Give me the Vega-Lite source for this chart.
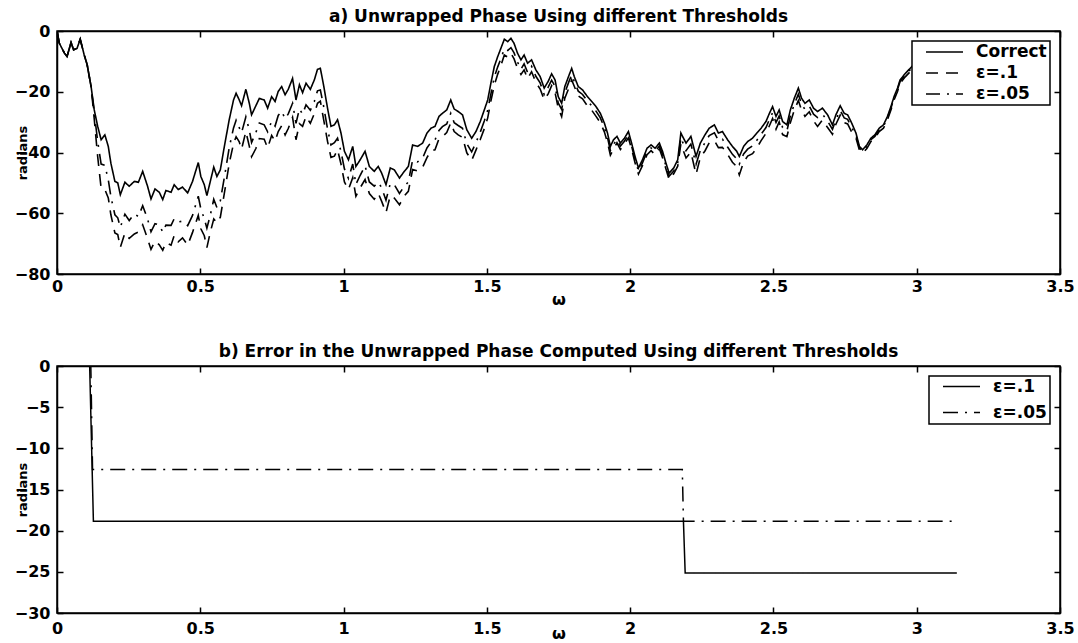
{
  "$schema": "https://vega.github.io/schema/vega-lite/v6.json",
  "background": "white",
  "padding": {"left": 13, "top": 7, "right": 5, "bottom": 0},
  "spacing": 34,
  "resolve": {"scale": {"strokeDash": "independent"}, "legend": {"strokeDash": "independent"}},
  "datasets": {
    "phase": [
      {"w":0,"c":0,"e05":0,"e1":0},
      {"w":0.008,"c":-4,"e05":-4,"e1":-4},
      {"w":0.026,"c":-7.3,"e05":-7.3,"e1":-7.3},
      {"w":0.035,"c":-8.4,"e05":-8.4,"e1":-8.4},
      {"w":0.049,"c":-3.8,"e05":-3.8,"e1":-3.8},
      {"w":0.058,"c":-6.2,"e05":-6.2,"e1":-6.2},
      {"w":0.07,"c":-5.7,"e05":-5.7,"e1":-5.7},
      {"w":0.081,"c":-2.7,"e05":-2.7,"e1":-2.7},
      {"w":0.095,"c":-7.9,"e05":-7.9,"e1":-7.9},
      {"w":0.105,"c":-11,"e05":-11,"e1":-11},
      {"w":0.119,"c":-18.3,"e05":-18.3,"e1":-18.3},
      {"w":0.13,"c":-26,"e05":-27,"e1":-29},
      {"w":0.142,"c":-31.4,"e05":-36.4,"e1":-41.4},
      {"w":0.154,"c":-35.8,"e05":-43.8,"e1":-51.8},
      {"w":0.167,"c":-34.2,"e05":-44.2,"e1":-52.2},
      {"w":0.179,"c":-38,"e05":-49,"e1":-55},
      {"w":0.188,"c":-43.5,"e05":-54.5,"e1":-60.5},
      {"w":0.202,"c":-49.5,"e05":-60.5,"e1":-66.5},
      {"w":0.212,"c":-50,"e05":-61.5,"e1":-67},
      {"w":0.221,"c":-53.9,"e05":-64.6,"e1":-71.2},
      {"w":0.237,"c":-49.8,"e05":-60.3,"e1":-66.5},
      {"w":0.252,"c":-51.1,"e05":-62.4,"e1":-68.3},
      {"w":0.27,"c":-49.5,"e05":-60.2,"e1":-66.8},
      {"w":0.284,"c":-49.8,"e05":-61.1,"e1":-66.2},
      {"w":0.299,"c":-46.2,"e05":-57.5,"e1":-63.8},
      {"w":0.316,"c":-51.1,"e05":-61.9,"e1":-68.4},
      {"w":0.328,"c":-55.3,"e05":-66.1,"e1":-71.9},
      {"w":0.342,"c":-52,"e05":-63.4,"e1":-69.2},
      {"w":0.357,"c":-53.1,"e05":-63.8,"e1":-70.4},
      {"w":0.369,"c":-55.5,"e05":-66.2,"e1":-72.2},
      {"w":0.38,"c":-52.5,"e05":-63.9,"e1":-69.6},
      {"w":0.398,"c":-53.1,"e05":-64,"e1":-70.5},
      {"w":0.409,"c":-50.6,"e05":-61.8,"e1":-67.3},
      {"w":0.423,"c":-52.2,"e05":-62.9,"e1":-69.4},
      {"w":0.438,"c":-51.4,"e05":-62.6,"e1":-68.1},
      {"w":0.456,"c":-53.3,"e05":-64.1,"e1":-70.5},
      {"w":0.473,"c":-49.5,"e05":-60.7,"e1":-66.3},
      {"w":0.493,"c":-43.3,"e05":-54.4,"e1":-60.7},
      {"w":0.502,"c":-47.9,"e05":-58.6,"e1":-65.1},
      {"w":0.514,"c":-50.6,"e05":-61.8,"e1":-67.4},
      {"w":0.523,"c":-54.2,"e05":-64.9,"e1":-71.3},
      {"w":0.535,"c":-49.5,"e05":-60.6,"e1":-66.2},
      {"w":0.547,"c":-44.8,"e05":-55.4,"e1":-61.9},
      {"w":0.558,"c":-47.9,"e05":-58.1,"e1":-63.2},
      {"w":0.57,"c":-45.7,"e05":-55.9,"e1":-61.3},
      {"w":0.584,"c":-38,"e05":-48.2,"e1":-53.4},
      {"w":0.601,"c":-29.2,"e05":-38.4,"e1":-43.6},
      {"w":0.616,"c":-22.7,"e05":-31.9,"e1":-37.1},
      {"w":0.625,"c":-20.5,"e05":-29.4,"e1":-34.8},
      {"w":0.636,"c":-22.7,"e05":-31.8,"e1":-36.5},
      {"w":0.644,"c":-24.6,"e05":-33.5,"e1":-38.9},
      {"w":0.659,"c":-19.2,"e05":-28.3,"e1":-33.1},
      {"w":0.671,"c":-23.8,"e05":-32.6,"e1":-37.9},
      {"w":0.679,"c":-27.6,"e05":-36.7,"e1":-41.4},
      {"w":0.694,"c":-24.6,"e05":-33.4,"e1":-38.7},
      {"w":0.706,"c":-22.2,"e05":-30.3,"e1":-35.4},
      {"w":0.723,"c":-22.7,"e05":-30.9,"e1":-35.6},
      {"w":0.735,"c":-25.4,"e05":-33.2,"e1":-38.5},
      {"w":0.749,"c":-21.6,"e05":-29.7,"e1":-34.4},
      {"w":0.761,"c":-23.2,"e05":-31.3,"e1":-36.3},
      {"w":0.772,"c":-19.9,"e05":-27.8,"e1":-33.1},
      {"w":0.784,"c":-18.3,"e05":-26.4,"e1":-31.2},
      {"w":0.796,"c":-21,"e05":-28.9,"e1":-34.2},
      {"w":0.807,"c":-19.2,"e05":-27.3,"e1":-32.1},
      {"w":0.822,"c":-15.6,"e05":-23.8,"e1":-28.4},
      {"w":0.834,"c":-22.7,"e05":-30.4,"e1":-35.8},
      {"w":0.846,"c":-17.7,"e05":-25.6,"e1":-30.5},
      {"w":0.857,"c":-20.3,"e05":-27.4,"e1":-31.4},
      {"w":0.869,"c":-17.2,"e05":-24.3,"e1":-28.1},
      {"w":0.884,"c":-19.2,"e05":-26.1,"e1":-30.4},
      {"w":0.898,"c":-16.1,"e05":-23.2,"e1":-27.2},
      {"w":0.909,"c":-12.6,"e05":-19.7,"e1":-23.8},
      {"w":0.919,"c":-12.3,"e05":-19.4,"e1":-23.1},
      {"w":0.93,"c":-17.7,"e05":-24.6,"e1":-28.9},
      {"w":0.944,"c":-25.4,"e05":-32.2,"e1":-36.3},
      {"w":0.956,"c":-31.4,"e05":-37.5,"e1":-41.6},
      {"w":0.968,"c":-30.9,"e05":-36.8,"e1":-41.2},
      {"w":0.979,"c":-29.2,"e05":-35.3,"e1":-39.1},
      {"w":0.991,"c":-33.6,"e05":-39.7,"e1":-43.8},
      {"w":1.003,"c":-39.6,"e05":-45.4,"e1":-49.7},
      {"w":1.017,"c":-42.4,"e05":-48.5,"e1":-52.2},
      {"w":1.032,"c":-38,"e05":-43.8,"e1":-48.3},
      {"w":1.043,"c":-44.6,"e05":-50.5,"e1":-54.4},
      {"w":1.058,"c":-42.4,"e05":-47.5,"e1":-51.6},
      {"w":1.075,"c":-39.6,"e05":-44.4,"e1":-48.9},
      {"w":1.09,"c":-44.6,"e05":-49.7,"e1":-53.5},
      {"w":1.107,"c":-46.2,"e05":-51.1,"e1":-55.4},
      {"w":1.121,"c":-44.6,"e05":-49.8,"e1":-53.4},
      {"w":1.133,"c":-46.8,"e05":-51.6,"e1":-56.1},
      {"w":1.148,"c":-50.6,"e05":-55.7,"e1":-59.8},
      {"w":1.163,"c":-45.1,"e05":-50.2,"e1":-54.2},
      {"w":1.177,"c":-45.7,"e05":-50.6,"e1":-55},
      {"w":1.195,"c":-48.4,"e05":-53.5,"e1":-57.2},
      {"w":1.212,"c":-46.2,"e05":-51.1,"e1":-54.3},
      {"w":1.226,"c":-44.6,"e05":-49.7,"e1":-52.8},
      {"w":1.241,"c":-37.5,"e05":-42.4,"e1":-45.6},
      {"w":1.258,"c":-38,"e05":-43.1,"e1":-46.1},
      {"w":1.276,"c":-36.9,"e05":-41.8,"e1":-44.8},
      {"w":1.291,"c":-33.6,"e05":-38.5,"e1":-41.7},
      {"w":1.305,"c":-32,"e05":-36.6,"e1":-39.4},
      {"w":1.319,"c":-31.4,"e05":-35.9,"e1":-39.1},
      {"w":1.333,"c":-28.1,"e05":-32.7,"e1":-35.5},
      {"w":1.345,"c":-27.1,"e05":-31.5,"e1":-34.8},
      {"w":1.36,"c":-26,"e05":-30.6,"e1":-33.4},
      {"w":1.374,"c":-22.7,"e05":-27.1,"e1":-30.3},
      {"w":1.386,"c":-25.7,"e05":-30.2,"e1":-33.1},
      {"w":1.4,"c":-26.5,"e05":-31.1,"e1":-34.2},
      {"w":1.415,"c":-27.6,"e05":-32,"e1":-35},
      {"w":1.43,"c":-32.5,"e05":-37.1,"e1":-40.1},
      {"w":1.447,"c":-35.3,"e05":-39.8,"e1":-42.6},
      {"w":1.462,"c":-33.1,"e05":-36.7,"e1":-39.2},
      {"w":1.477,"c":-29.8,"e05":-33.3,"e1":-35.7},
      {"w":1.491,"c":-26,"e05":-29.6,"e1":-32.2},
      {"w":1.503,"c":-22.7,"e05":-26.1,"e1":-28.6},
      {"w":1.514,"c":-17.2,"e05":-20.8,"e1":-23.1},
      {"w":1.526,"c":-11.7,"e05":-15.1,"e1":-17.8},
      {"w":1.538,"c":-8.4,"e05":-11.8,"e1":-14.2},
      {"w":1.549,"c":-5.7,"e05":-9.1,"e1":-11.4},
      {"w":1.561,"c":-2.7,"e05":-5.8,"e1":-7.9},
      {"w":1.573,"c":-3.5,"e05":-6.4,"e1":-8.6},
      {"w":1.584,"c":-2.4,"e05":-5.5,"e1":-7.3},
      {"w":1.595,"c":-4.1,"e05":-7.2,"e1":-9.2},
      {"w":1.607,"c":-7.3,"e05":-10.2,"e1":-12.4},
      {"w":1.619,"c":-9.5,"e05":-12.6,"e1":-14.3},
      {"w":1.63,"c":-7.9,"e05":-10.8,"e1":-12.8},
      {"w":1.642,"c":-10.6,"e05":-13.6,"e1":-15.7},
      {"w":1.656,"c":-9.5,"e05":-11.6,"e1":-13.4},
      {"w":1.671,"c":-12.8,"e05":-14.9,"e1":-16.9},
      {"w":1.686,"c":-15,"e05":-17.1,"e1":-19.1},
      {"w":1.7,"c":-18.8,"e05":-20.9,"e1":-22.6},
      {"w":1.714,"c":-16.6,"e05":-18.5,"e1":-20.7},
      {"w":1.726,"c":-14.1,"e05":-16.2,"e1":-18},
      {"w":1.738,"c":-16.1,"e05":-18.2,"e1":-20.3},
      {"w":1.749,"c":-21.6,"e05":-23.7,"e1":-25.4},
      {"w":1.761,"c":-23.8,"e05":-25.8,"e1":-28.2},
      {"w":1.772,"c":-18.3,"e05":-20.4,"e1":-22.1},
      {"w":1.787,"c":-14.5,"e05":-16.5,"e1":-18.6},
      {"w":1.796,"c":-12.3,"e05":-14.4,"e1":-16.1},
      {"w":1.805,"c":-15,"e05":-16.6,"e1":-18.2},
      {"w":1.819,"c":-18.3,"e05":-19.8,"e1":-21.4},
      {"w":1.834,"c":-19.4,"e05":-20.9,"e1":-22.3},
      {"w":1.851,"c":-21.6,"e05":-23.1,"e1":-24.7},
      {"w":1.866,"c":-23.2,"e05":-24.6,"e1":-26.1},
      {"w":1.881,"c":-24.9,"e05":-26.4,"e1":-28.1},
      {"w":1.896,"c":-27.1,"e05":-28.6,"e1":-30.2},
      {"w":1.91,"c":-30.3,"e05":-31.8,"e1":-33.2},
      {"w":1.921,"c":-33.6,"e05":-35.1,"e1":-36.7},
      {"w":1.931,"c":-38,"e05":-39.4,"e1":-40.9},
      {"w":1.942,"c":-35.8,"e05":-37.3,"e1":-38.9},
      {"w":1.954,"c":-34.7,"e05":-35.8,"e1":-36.8},
      {"w":1.966,"c":-36.9,"e05":-37.9,"e1":-39},
      {"w":1.98,"c":-35.3,"e05":-36.3,"e1":-37.2},
      {"w":1.994,"c":-33.1,"e05":-34.1,"e1":-35.2},
      {"w":2.005,"c":-36.9,"e05":-37.9,"e1":-38.8},
      {"w":2.017,"c":-41.3,"e05":-42.3,"e1":-43.4},
      {"w":2.029,"c":-45.1,"e05":-46.1,"e1":-47.1},
      {"w":2.043,"c":-42.4,"e05":-43.4,"e1":-44.3},
      {"w":2.059,"c":-38.6,"e05":-39.6,"e1":-40.7},
      {"w":2.073,"c":-37.5,"e05":-38.5,"e1":-39.4},
      {"w":2.087,"c":-38.6,"e05":-39.6,"e1":-40.7},
      {"w":2.102,"c":-36.9,"e05":-37.9,"e1":-38.8},
      {"w":2.113,"c":-39.6,"e05":-40.6,"e1":-41.7},
      {"w":2.125,"c":-43.5,"e05":-44.5,"e1":-45.4},
      {"w":2.136,"c":-46.8,"e05":-47.8,"e1":-48.9},
      {"w":2.152,"c":-45.1,"e05":-46.1,"e1":-47},
      {"w":2.166,"c":-42.4,"e05":-43.4,"e1":-44.5},
      {"w":2.177,"c":-33.6,"e05":-35.1,"e1":-37.2},
      {"w":2.195,"c":-36.9,"e05":-39.4,"e1":-41.8},
      {"w":2.212,"c":-34.7,"e05":-37.2,"e1":-39.9},
      {"w":2.23,"c":-41.3,"e05":-43.9,"e1":-47.2},
      {"w":2.245,"c":-36.9,"e05":-39.3,"e1":-41.6},
      {"w":2.261,"c":-34.2,"e05":-36.8,"e1":-39.5},
      {"w":2.276,"c":-32,"e05":-34.4,"e1":-36.8},
      {"w":2.294,"c":-30.9,"e05":-33.5,"e1":-36.1},
      {"w":2.308,"c":-33.6,"e05":-36.1,"e1":-38.4},
      {"w":2.322,"c":-33.1,"e05":-35.6,"e1":-38.3},
      {"w":2.34,"c":-35.8,"e05":-38.2,"e1":-40.6},
      {"w":2.357,"c":-38,"e05":-40.6,"e1":-43.2},
      {"w":2.372,"c":-39.6,"e05":-42.1,"e1":-44.7},
      {"w":2.381,"c":-41.3,"e05":-43.8,"e1":-47.4},
      {"w":2.396,"c":-38,"e05":-40.5,"e1":-43.1},
      {"w":2.41,"c":-36.4,"e05":-38.9,"e1":-41.2},
      {"w":2.427,"c":-35.3,"e05":-37.8,"e1":-40.4},
      {"w":2.442,"c":-33.6,"e05":-36,"e1":-38.5},
      {"w":2.457,"c":-32,"e05":-34,"e1":-36.1},
      {"w":2.474,"c":-29.8,"e05":-31.8,"e1":-33.7},
      {"w":2.486,"c":-27.1,"e05":-29.1,"e1":-31.2},
      {"w":2.497,"c":-24.9,"e05":-26.9,"e1":-28.8},
      {"w":2.509,"c":-28.1,"e05":-30.1,"e1":-32.3},
      {"w":2.52,"c":-26,"e05":-28,"e1":-29.9},
      {"w":2.532,"c":-29.8,"e05":-31.8,"e1":-34.1},
      {"w":2.547,"c":-30.9,"e05":-32.9,"e1":-34.8},
      {"w":2.559,"c":-26,"e05":-28,"e1":-30.2},
      {"w":2.573,"c":-22.1,"e05":-24.1,"e1":-26},
      {"w":2.587,"c":-18.8,"e05":-20.8,"e1":-22.9},
      {"w":2.598,"c":-22.1,"e05":-24.1,"e1":-26},
      {"w":2.61,"c":-23.8,"e05":-25.8,"e1":-28.1},
      {"w":2.625,"c":-22.7,"e05":-24.7,"e1":-26.6},
      {"w":2.64,"c":-25.4,"e05":-27.4,"e1":-29.6},
      {"w":2.654,"c":-26.5,"e05":-28.5,"e1":-31.4},
      {"w":2.671,"c":-25.4,"e05":-27.4,"e1":-29.3},
      {"w":2.689,"c":-27.6,"e05":-29.6,"e1":-31.8},
      {"w":2.706,"c":-30.9,"e05":-32.4,"e1":-34},
      {"w":2.718,"c":-27.6,"e05":-29.1,"e1":-30.7},
      {"w":2.733,"c":-24.6,"e05":-26.1,"e1":-27.7},
      {"w":2.747,"c":-27.1,"e05":-28.6,"e1":-30.2},
      {"w":2.759,"c":-27.6,"e05":-29.1,"e1":-30.6},
      {"w":2.773,"c":-30.3,"e05":-31.8,"e1":-33.3},
      {"w":2.788,"c":-33.6,"e05":-34.3,"e1":-35.2},
      {"w":2.8,"c":-38,"e05":-38.5,"e1":-39.2},
      {"w":2.811,"c":-39.1,"e05":-39.6,"e1":-40.2},
      {"w":2.826,"c":-37.5,"e05":-38,"e1":-38.7},
      {"w":2.84,"c":-35.3,"e05":-35.8,"e1":-36.4},
      {"w":2.854,"c":-34.2,"e05":-34.7,"e1":-35.3},
      {"w":2.869,"c":-32,"e05":-32.5,"e1":-33.1},
      {"w":2.884,"c":-30.9,"e05":-31.4,"e1":-32},
      {"w":2.898,"c":-28.1,"e05":-28.6,"e1":-29.2},
      {"w":2.91,"c":-24.9,"e05":-25.4,"e1":-26},
      {"w":2.921,"c":-21.6,"e05":-22.1,"e1":-22.7},
      {"w":2.933,"c":-18.8,"e05":-19.3,"e1":-19.9},
      {"w":2.942,"c":-16.1,"e05":-16.6,"e1":-17.2},
      {"w":2.96,"c":-14,"e05":-14.5,"e1":-15.1},
      {"w":2.98,"c":-12,"e05":-12.5,"e1":-13.1},
      {"w":3.0,"c":-10,"e05":-10.5,"e1":-11.1},
      {"w":3.04,"c":-8.5,"e05":-9,"e1":-9.6},
      {"w":3.08,"c":-7,"e05":-7.5,"e1":-8.1},
      {"w":3.14,"c":-5.5,"e05":-6,"e1":-6.6}
    ],
    "err": [
      {"w":0,"series":"e1","value":0},
      {"w":0.114,"series":"e1","value":0},
      {"w":0.127,"series":"e1","value":-18.85},
      {"w":2.186,"series":"e1","value":-18.85},
      {"w":2.192,"series":"e1","value":-25.13},
      {"w":3.14,"series":"e1","value":-25.13},
      {"w":0,"series":"e05","value":0},
      {"w":0.118,"series":"e05","value":0},
      {"w":0.124,"series":"e05","value":-12.57},
      {"w":2.182,"series":"e05","value":-12.57},
      {"w":2.186,"series":"e05","value":-18.85},
      {"w":3.14,"series":"e05","value":-18.85}
    ]
  },
  "vconcat": [
    {
      "width": 1003,
      "height": 243,
      "title": {"text": "a) Unwrapped Phase Using different Thresholds", "frame": "group", "offset": -3},
      "data": {"name": "phase"},
      "transform": [{"fold": ["c", "e1", "e05"], "as": ["series", "value"]}],
      "layer": [
        {
          "mark": {"type": "line", "color": "black", "strokeWidth": 1.6, "clip": true},
          "encoding": {
            "x": {"field": "w", "type": "quantitative", "scale": {"domain": [0, 3.5], "nice": false, "zero": false},
                  "axis": {"orient": "bottom", "values": [0, 0.5, 1, 1.5, 2, 2.5, 3, 3.5], "format": "~g", "title": "ω", "titleY": 25, "titleBaseline": "middle", "labelPadding": 10}},
            "y": {"field": "value", "type": "quantitative", "scale": {"domain": [-80, 0], "nice": false, "zero": false},
                  "axis": {"orient": "left", "values": [-80, -60, -40, -20, 0], "title": "radians", "titleX": -31, "titleY": 121.5, "titleBaseline": "alphabetic", "titleFontSize": 13, "labelPadding": 13}},
            "strokeDash": {"field": "series", "type": "nominal",
                  "scale": {"domain": ["c", "e1", "e05"], "range": [[1, 0], [12, 8], [14, 7, 2, 7]]},
                  "legend": {"title": null, "orient": "top-right", "offset": 10, "padding": 3, "clipHeight": 16, "rowPadding": 4,
                             "labelExpr": "datum.label == 'c' ? 'Correct\u00a0\u00a0' : datum.label == 'e1' ? 'ε=.1' : 'ε=.05'"}}
          }
        },
        {
          "mark": {"type": "point", "opacity": 0},
          "encoding": {
            "x": {"field": "w", "type": "quantitative", "axis": {"orient": "top", "values": [0, 0.5, 1, 1.5, 2, 2.5, 3, 3.5], "labels": false, "title": null}},
            "y": {"field": "value", "type": "quantitative", "axis": {"orient": "right", "values": [-80, -60, -40, -20, 0], "labels": false, "title": null}}
          }
        }
      ],
      "resolve": {"axis": {"x": "independent", "y": "independent"}}
    },
    {
      "width": 1003,
      "height": 247,
      "title": {"text": "b) Error in the Unwrapped Phase Computed Using different Thresholds", "frame": "group", "offset": -3},
      "data": {"name": "err"},
      "layer": [
        {
          "mark": {"type": "line", "color": "black", "strokeWidth": 1.5, "clip": true},
          "encoding": {
            "x": {"field": "w", "type": "quantitative", "scale": {"domain": [0, 3.5], "nice": false, "zero": false},
                  "axis": {"orient": "bottom", "values": [0, 0.5, 1, 1.5, 2, 2.5, 3, 3.5], "format": "~g", "title": "ω", "titleY": 20, "titleBaseline": "middle", "labelPadding": 13}},
            "y": {"field": "value", "type": "quantitative", "scale": {"domain": [-30, 0], "nice": false, "zero": false},
                  "axis": {"orient": "left", "values": [-30, -25, -20, -15, -10, -5, 0], "title": "radians", "titleX": -31, "titleY": 123.5, "titleBaseline": "alphabetic", "titleFontSize": 13, "labelPadding": 13}},
            "strokeDash": {"field": "series", "type": "nominal",
                  "scale": {"domain": ["e1", "e05"], "range": [[1, 0], [15, 7, 2, 7]]},
                  "legend": {"title": null, "orient": "top-right", "offset": 10, "padding": 3, "clipHeight": 15, "rowPadding": 8,
                             "labelExpr": "datum.label == 'e1' ? 'ε=.1' : 'ε=.05\u00a0\u00a0'"}}
          }
        },
        {
          "mark": {"type": "point", "opacity": 0},
          "encoding": {
            "x": {"field": "w", "type": "quantitative", "axis": {"orient": "top", "values": [0, 0.5, 1, 1.5, 2, 2.5, 3, 3.5], "labels": false, "title": null}},
            "y": {"field": "value", "type": "quantitative", "axis": {"orient": "right", "values": [-30, -25, -20, -15, -10, -5, 0], "labels": false, "title": null}}
          }
        }
      ],
      "resolve": {"axis": {"x": "independent", "y": "independent"}}
    }
  ],
  "config": {
    "font": "DejaVu Sans",
    "view": {"stroke": "black", "strokeWidth": 1.5},
    "axis": {
      "domainColor": "black", "domainWidth": 1.5,
      "tickColor": "black", "tickWidth": 1.5, "tickSize": -6,
      "labelFont": "DejaVu Sans", "labelFontWeight": "bold", "labelFontSize": 16, "labelColor": "black",
      "labelFlush": false, "labelOverlap": false, "grid": false,
      "titleFont": "DejaVu Sans", "titleFontWeight": "bold", "titleFontSize": 16, "titleColor": "black"
    },
    "legend": {
      "strokeColor": "black", "strokeWidth": 1.5, "fillColor": "white",
      "symbolType": "stroke", "symbolSize": 1369, "symbolStrokeWidth": 1.5, "symbolStrokeColor": "black",
      "symbolOffset": 10, "labelOffset": 12,
      "labelFont": "DejaVu Sans", "labelFontWeight": "bold", "labelFontSize": 17, "labelColor": "black"
    },
    "title": {"font": "DejaVu Sans", "fontWeight": "bold", "fontSize": 17, "color": "black"}
  }
}
